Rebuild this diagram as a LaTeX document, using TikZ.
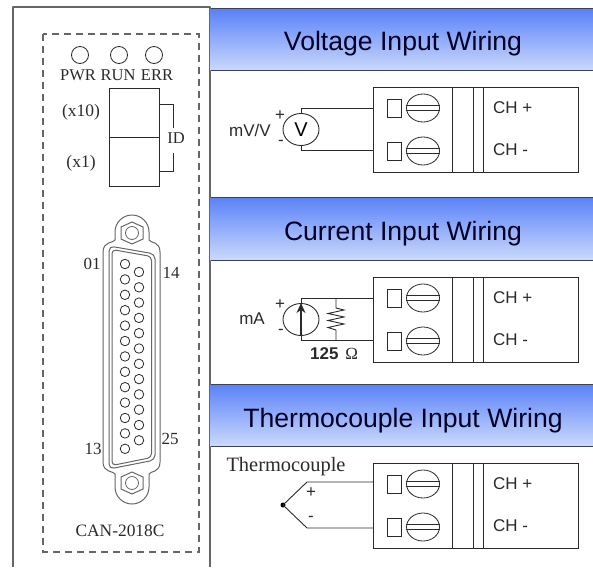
\documentclass[tikz,border=0pt]{standalone}
\usepackage{fontspec}
\setmainfont{Liberation Serif}
\setsansfont{Liberation Sans}
\usetikzlibrary{shapes.geometric,arrows.meta}
\definecolor{inkc}{HTML}{2A2A2A}
\definecolor{panelc}{HTML}{666666}
\definecolor{headtop}{HTML}{5A82F8}
\definecolor{headbot}{HTML}{CBD9FB}
\definecolor{headline}{HTML}{3A4258}
\tikzset{
  wire/.style={draw=inkc,line width=0.9pt},
  serifl/.style={inner sep=0pt,text=inkc,font=\rmfamily\fontsize{15.5}{17}\selectfont},
  seriflb/.style={inner sep=0pt,text=inkc,font=\rmfamily\fontsize{17.5}{19}\selectfont},
  sansl/.style={inner sep=0pt,text=inkc,font=\sffamily\fontsize{17}{19}\selectfont},
  titlel/.style={inner sep=0pt,text=black!85!blue,font=\sffamily\fontsize{26.6}{30}\selectfont},
  led/.style={draw=inkc,line width=0.8pt,ellipse,inner sep=0pt,minimum width=17pt,minimum height=17pt},
  pin/.style={draw=inkc,line width=0.8pt,circle,inner sep=0pt,minimum size=9.5pt},
  tblock/.style={draw=inkc,line width=0.9pt,rectangle,inner sep=0pt,minimum width=205pt,minimum height=85pt},
  tsquare/.style={draw=inkc,line width=0.7pt,rectangle,inner sep=0pt,minimum width=14pt,minimum height=18pt},
  tscrew/.style={draw=inkc,line width=0.8pt,ellipse,inner sep=0pt,minimum width=33pt,minimum height=28pt},
  source/.style={draw=inkc,line width=0.9pt,ellipse,inner sep=0pt,minimum width=36pt,minimum height=32pt},
  idbox/.style={draw=inkc,line width=0.9pt,rectangle,inner sep=0pt,minimum width=50pt,minimum height=48.5pt},
}
% #1 name prefix, #2 vertical offset
\newcommand{\termblock}[2]{%
  \node[tblock] (#1b) at (475.5,129.5+#2) {};
  \draw[wire] (452,87+#2) -- (452,172+#2);
  \draw[wire] (473,87+#2) -- (473,172+#2);
  \draw[wire] (483,87+#2) -- (483,172+#2);
  \node[tsquare] (#1sa) at (394,108+#2) {};
  \node[tsquare] (#1sb) at (394,151+#2) {};
  \node[tscrew] (#1ca) at (423,108+#2) {};
  \node[tscrew] (#1cb) at (423,151+#2) {};
  \draw[wire,line width=0.8pt] (#1ca.west |- 0,105.5+#2) -- (#1ca.east |- 0,105.5+#2);
  \draw[wire,line width=0.8pt] (#1ca.west |- 0,110.5+#2) -- (#1ca.east |- 0,110.5+#2);
  \draw[wire,line width=0.8pt] (#1cb.west |- 0,148.5+#2) -- (#1cb.east |- 0,148.5+#2);
  \draw[wire,line width=0.8pt] (#1cb.west |- 0,153.5+#2) -- (#1cb.east |- 0,153.5+#2);
  \node[sansl,anchor=west] (#1tp) at (493,108+#2) {CH +};
  \node[sansl,anchor=west] (#1tm) at (493,150+#2) {CH -};
  \coordinate (#1pa) at (373,108+#2);
  \coordinate (#1pb) at (373,150+#2);
}
% #1 top y, #2 bottom y
\newcommand{\headband}[2]{%
  \shade[top color=headtop,bottom color=headbot] (210.5,#1) rectangle (593,#2);
  \draw[headline,line width=1pt] (210.5,#1) -- (593,#1);
  \draw[headline,line width=1pt] (210.5,#2) -- (593,#2);
}
\begin{document}
\begin{tikzpicture}[x=1pt,y=-1pt]
\useasboundingbox (0,0) rectangle (593,567);
% left panel
\draw[panelc,line width=1.5pt,line join=round] (13,567) -- (13,7) -- (210,7) -- (210,567);
\draw[panelc,line width=1.2pt,dash pattern=on 7pt off 5pt] (43,34) rectangle (199,552);
\node[led] (ledp) at (80,55) {};
\node[led] (ledr) at (119,55) {};
\node[led] (lede) at (154,55) {};
\node[serifl,font=\rmfamily\fontsize{16.5}{18}\selectfont] (tp) at (78,75) {PWR};
\node[serifl,font=\rmfamily\fontsize{16.5}{18}\selectfont] (tr) at (118,75) {RUN};
\node[serifl,font=\rmfamily\fontsize{16.5}{18}\selectfont] (te) at (157,75) {ERR};
\node[idbox,anchor=north west] (idh) at (109,88.5) {};
\node[idbox,anchor=north west] (idl) at (109,137) {};
\draw[wire] (idh.east |- 0,104) -- (173,104) -- (173,128);
\draw[wire] (173,153) -- (173,171) -- (idl.east |- 0,171);
\node[serifl,font=\rmfamily\fontsize{16.5}{18}\selectfont] (tid) at (176,138) {ID};
\node[seriflb] (tx10) at (81,112) {(x10)};
\node[seriflb] (tx1) at (81,163) {(x1)};
% D-sub connector
\draw[panelc,line width=1pt] (115,240) -- (115,232)
  .. controls (115,222.6) and (122.6,215) .. (132,215)
  .. controls (141.4,215) and (149,222.6) .. (149,232) -- (149,240)
  .. controls (150,243) and (160,241) .. (160,252) -- (160,462)
  .. controls (160,473) and (150,471) .. (149,474) -- (149,487)
  .. controls (149,496.4) and (141.4,504) .. (132,504)
  .. controls (122.6,504) and (115,496.4) .. (115,487) -- (115,474)
  .. controls (114,471) and (103,473) .. (103,462) -- (103,252)
  .. controls (103,241) and (114,243) .. (115,240) -- cycle;
\draw[panelc,line width=1pt,rounded corners=5pt] (109,246) -- (155,254) -- (155,460) -- (109,469) -- cycle;
\draw[panelc,line width=1pt,rounded corners=4pt] (112,249.5) -- (151.5,256.5) -- (151.5,457.5) -- (112,465.5) -- cycle;
\draw[panelc,line width=1pt] (132,222) -- (143,227) -- (143,239) -- (132,244) -- (121,239) -- (121,227) -- cycle;
\node[pin,draw=panelc,minimum size=13pt] (screwt) at (132,233) {};
\draw[panelc,line width=1pt] (132,472) -- (143,477) -- (143,489) -- (132,494) -- (121,489) -- (121,477) -- cycle;
\node[pin,draw=panelc,minimum size=13pt] (screwb) at (132,483) {};
\foreach \i in {0,...,12} \node[pin] (pl\i) at (125,264+15.4*\i) {};
\foreach \i in {0,...,11} \node[pin] (pr\i) at (139,272+15.3*\i) {};
\node[serifl,font=\rmfamily\fontsize{17}{19}\selectfont] (t01) at (92,264) {01};
\node[serifl,font=\rmfamily\fontsize{17}{19}\selectfont] (t14) at (171,273) {14};
\node[serifl,font=\rmfamily\fontsize{17}{19}\selectfont] (t13) at (93,449) {13};
\node[serifl,font=\rmfamily\fontsize{17}{19}\selectfont] (t25) at (170,439) {25};
\node[serifl,font=\rmfamily\fontsize{17.4}{19}\selectfont] (tcan) at (120,531) {CAN-2018C};
% header bands
\headband{9}{71}
\headband{197}{260}
\headband{384}{446}
\node[titlel] (h1) at (403,43.5) {Voltage Input Wiring};
\node[titlel] (h2) at (403,233.5) {Current Input Wiring};
\node[titlel] (h3) at (403,420.5) {Thermocouple Input Wiring};
% terminal blocks
\termblock{a}{0}
\termblock{c}{190}
\termblock{d}{376}
% voltage
\node[source,font=\sffamily\fontsize{20}{22}\selectfont] (vs) at (301,129.5) {V};
\draw[wire] (vs.north) |- (apa);
\draw[wire] (vs.south) |- (apb);
\node[sansl] (tmv) at (250,130) {mV/V};
\node[sansl] (tvp) at (280,116) {+};
\node[sansl] (tvm) at (281,143) {-};
% current
\node[source] (is) at (301,319.5) {};
\draw[wire] (is.north) |- (cpa);
\draw[wire] (is.south) |- (cpb);
\draw[wire,line width=1.2pt,-{Stealth[length=10pt,width=9pt]}] (is.south) -- (is.north);
\coordinate (ra) at (336,298);
\coordinate (rb) at (336,340);
\draw[wire] (ra) -- (336,308) -- (344,310) -- (328,313.5) -- (344,317) -- (328,320.5) -- (344,324) -- (328,327.5) -- (336,330) -- (rb);
\node[sansl] (tma) at (252,319) {mA};
\node[sansl] (tip) at (280,305) {+};
\node[sansl] (tim) at (281,332) {-};
\node[sansl] (tres) at (334,354) {\textbf{125}\hspace{0.4em}\rmfamily Ω};
% thermocouple
\node[serifl,font=\rmfamily\fontsize{20.4}{22}\selectfont] (ttc) at (286,467) {Thermocouple};
\node[circle,fill=black,inner sep=0pt,minimum size=5pt] (tj) at (283,505) {};
\draw[wire] (tj.center) -- (307,482) -- (dpa |- 0,482);
\draw[wire] (tj.center) -- (307,528) -- (dpb |- 0,528);
\node[sansl] (ttp) at (311,493) {+};
\node[sansl] (ttm) at (311,519) {-};
\end{tikzpicture}
\end{document}
